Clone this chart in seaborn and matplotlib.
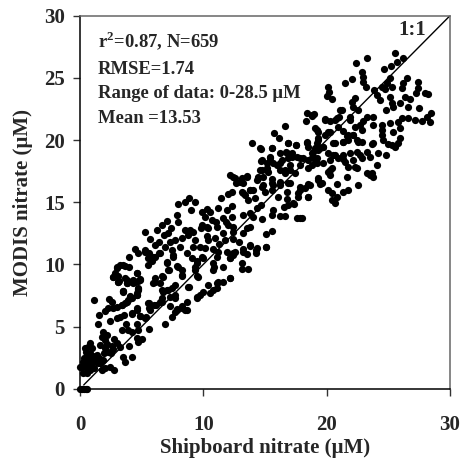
import pandas as pd
import seaborn as sns
import matplotlib
matplotlib.use("Agg")
import matplotlib.pyplot as plt

# points (shipboard, MODIS), by range of shipboard nitrate
zero_pts = [(0, 0), (0.15, 0), (0.3, 0), (0.5, 0), (0.6, 0)]
low_pts = [
    (1.16, 7.13), (1.54, 5.92), (1.43, 5.17), (2.03, 6.27), (2.38, 7.2), (2.57, 7.0), (2.3, 6.46), (2.7, 6.46),
    (2.97, 6.6), (3.38, 6.73), (3.65, 6.86), (3.92, 7.13), (4.05, 7.45), (4.6, 7.53), (4.73, 8), (3.46, 7.85),
    (3.1, 8.6), (3.78, 8.5), (4.3, 8.5), (4.7, 8.66), (2.43, 5.44), (2.97, 5.7), (3.24, 5.8), (3.6, 5.92),
    (4.24, 6), (4.65, 6.46), (4.86, 5.87), (5.27, 5.66), (5.6, 6.86), (5.6, 6.46), (6.2, 6.73), (6.62, 6.94),
    (5.6, 4.77), (6.9, 5.2), (7.43, 5.74), (7.7, 6.2), (7.3, 6.65), (8.24, 6.46), (7.84, 6.4), (8.5, 6.3),
    (3.7, 5.2), (3.38, 4.72), (3.92, 4.72), (4.24, 4.58), (4.6, 5.2), (4.73, 4.72), (4.6, 4.05), (5, 3.97),
    (4.73, 3.73), (3.97, 3.46), (1.89, 4.58), (2.16, 4.3), (1.76, 4.18), (1.62, 3.5), (2.03, 3.9), (2.78, 3.97),
    (2.97, 3.65), (2.57, 3.43), (3.24, 3.38), (2.3, 2.98), (1.97, 2.9), (3.51, 2.57), (3.65, 2.17), (4.19, 2.52),
    (2.78, 1.5), (2.43, 1.77), (2.03, 1.64), (1.76, 1.5), (1.5, 2.45), (1.2, 2.65), (1.62, 2.05), (0.81, 3.65),
    (0.4, 3.24), (0.95, 3.24), (0.54, 2.7), (0.95, 2.57), (1.35, 2.7), (0.27, 2.17), (0.68, 2.17), (1.08, 2.17),
    (1.49, 2.04), (0.14, 1.72), (0.54, 1.64), (0.95, 1.64), (0.27, 1.23), (0.81, 1.5), (0, 1.77), (0.7, 3.4),
    (0.45, 2.95), (0.8, 2.9), (0.35, 2.5), (0.6, 2.4), (0.85, 1.95), (0.4, 1.9), (0.55, 1.3), (1.15, 1.7),
    (1.3, 2.3), (1.9, 2.3), (2.0, 3.3), (2.2, 3.6), (2.5, 2.9), (2.7, 3.2),
]
mid_pts = [
    (7.97, 14.85), (8.51, 15.04), (8.84, 15.31), (9.32, 15.04), (8.97, 14.37), (7.89, 13.97), (7.92, 13.38),
    (7.08, 13.51), (6.62, 13.17), (6.21, 12.76), (7.35, 12.9), (7.16, 12.55), (6.81, 12.36), (5.27, 12.58),
    (5.67, 12.01), (6.08, 11.56), (6.43, 11.82), (7.3, 11.82), (7.7, 11.96), (8.24, 12.09), (8.51, 12.76),
    (8.92, 12.76), (9.19, 12.63), (8.78, 12.36), (9.32, 11.96), (4.46, 11.21), (4.73, 10.89), (5.27, 11.15),
    (5.62, 10.89), (6.43, 10.89), (5.94, 10.62), (5.81, 10.27), (5.54, 9.95), (3.97, 10.62), (6.89, 11.42),
    (7.43, 11.15), (7.57, 10.62), (8.11, 11.42), (8.65, 10.89), (9.05, 10.48), (9.46, 10.3), (9.86, 10.62),
    (10.13, 11.29), (9.19, 11.42), (9.73, 11.42), (7.03, 10.2), (7.24, 9.55), (7.84, 9.87), (8.24, 9.55),
    (8.24, 9.06), (9.32, 9.81), (9.51, 9.06), (10.86, 9.81), (11.08, 10.62), (3.24, 9.95), (3.65, 9.87),
    (4.0, 9.76), (2.97, 9.68), (2.84, 9.33), (2.65, 9), (3.1, 9.06), (3.65, 8.88), (3.78, 8.47), (3.19, 8.69),
    (4.32, 8.74), (4.86, 8.8), (4.59, 9.33), (4.73, 8.07), (4.59, 7.67), (3.46, 7.86), (4.05, 7.4), (6.08, 8.88),
    (6.62, 9.06), (5.94, 8.53), (6.48, 8.47), (6.62, 7.94), (7.03, 7.94), (7.43, 8.07), (7.7, 7.54), (7.3, 7.4),
    (8.73, 8.2), (10, 7.8), (10.4, 8.34), (9.5, 7.4), (10.54, 7.67), (11.08, 8.07), (11.08, 8.5), (6.62, 7.27),
    (7.84, 6.33), (8.24, 6.65), (8.65, 7), (7.7, 7.27), (8.65, 6.33), (9.46, 7.27), (9.73, 7.53), (10.8, 7.94),
    (11.2, 8.6), (11.6, 8.6), (12.16, 8.87), (8.8, 8.2), (7.7, 8.34), (7.16, 7.94), (6.76, 7.8), (6.5, 7),
    (6.0, 6.75), (5.54, 6.86), (5.68, 6.33), (4.65, 6.33), (4.19, 6.06), (4.86, 5.84), (5.32, 5.74), (10.8, 9.54),
    (11.6, 9.8), (12.16, 10.48), (10.8, 10.08), (12.43, 10.88), (9.46, 10.08), (9.6, 9), (9.32, 9.54), (10, 10.48),
    (7.97, 9.81), (8.24, 9.14), (7.16, 9.54), (7.03, 10.08), (6.08, 8.6), (6.76, 9), (7.57, 10.75), (5.54, 10.48),
    (6.08, 10.6), (6.5, 10.88), (5.27, 11), (2.97, 9.8), (3.5, 9.95), (2.7, 9), (3.1, 8.6), (3.78, 8.74),
    (4.6, 9.27), (4.86, 8.74), (4.46, 8.6), (3.5, 7.8), (4.73, 7.94), (4.6, 7.53), (4.2, 7.3), (3.78, 7), (3.38, 6.73),
    (10.3, 12.3), (10.8, 11.2), (11.3, 11.6), (9.8, 12.9), (10.4, 12.9), (11, 13.4), (11.8, 13.4), (12.4, 12.6),
    (12.9, 11.8), (12.6, 11), (11.9, 11), (11.2, 11), (13.2, 12.5),
]
high_pts = [
    (15.76, 20.6), (16.14, 20.19), (13.92, 19.74), (14.65, 19.28), (15.6, 19.33), (16.84, 19.74), (17.51, 19.6),
    (18.38, 19.87), (18.51, 19.47), (19.05, 19.33), (16.22, 18.93), (16.7, 19.07), (17.16, 18.93), (15.41, 18.67),
    (14.68, 18.32), (15.13, 18.13), (15.95, 18), (16.35, 18.4), (16.89, 18.53), (17.57, 18.67), (18.11, 18.53),
    (18.92, 18.67), (19.19, 18.13), (17.84, 18), (18.51, 17.73), (16.22, 17.59), (17.03, 17.59), (16.62, 17.32),
    (17.43, 17.32), (14.73, 17.59), (15.27, 17.46), (12.16, 17.19), (13.51, 17.11), (13.11, 16.92), (12.65, 16.52),
    (13.19, 16.52), (12.57, 16.92), (14.46, 16.98), (15.54, 16.57), (14.73, 16.25), (14.05, 15.98), (13.75, 16.0),
    (13.11, 15.85), (13.38, 15.58), (12.3, 15.85), (12.03, 15.64), (11.43, 15.31), (13.65, 15.18), (14.19, 15.31),
    (15, 15.85), (15.54, 15.98), (16.22, 16.39), (17.03, 16.52), (16.81, 15.8), (17.84, 16.2), (17.65, 15.7),
    (18.51, 16.44), (18.46, 15.45), (19.32, 16.79), (19.45, 16.5), (16.08, 15.45), (16.81, 15.23), (17.38, 14.86),
    (16.89, 14.78), (16.5, 14.59), (15.68, 14.38), (15.54, 13.97), (16.22, 13.89), (16.62, 13.89), (17.57, 13.7),
    (17.97, 13.7), (14.78, 13.65), (14.68, 14.78), (14.32, 14.51), (13.78, 14.11), (12.35, 14.7), (13.24, 13.97),
    (14.05, 13.78), (12.3, 13.78), (11.57, 13.76), (11.22, 14.51), (11.89, 14.38), (10.27, 14.46), (9.87, 14.24),
    (10.54, 14.24), (10.14, 13.78), (10.68, 13.57), (9.87, 13.17), (10.27, 13.03), (11.08, 12.98), (12.03, 13.17),
    (12.43, 13.03), (13.78, 13.03), (13.51, 12.9), (11.62, 12.5), (10.95, 12.1), (10.41, 11.96), (11.76, 11.96),
    (12.43, 12.02), (15.05, 12.42), (15.54, 12.69), (13.78, 11.56), (13.24, 11.2), (15.05, 11.43), (14.32, 11.3),
    (15.09, 11.38), (14.28, 11.16), (13.79, 11.51), (13.25, 11.03), (13.57, 10.84), (13.11, 10.14), (13.17, 9.61),
    (13.66, 9.61), (12.39, 10.76), (12.17, 10.5), (12.17, 8.88), (14.28, 10.9),
    (25.54, 26.98), (26.22, 26.58), (25.73, 26.26), (25.19, 25.96), (24.65, 25.72), (23.3, 26.58), (22.35, 26.23),
    (22.84, 25.5), (22.97, 25.1), (22.92, 24.7), (23.19, 24.3), (21.49, 24.62), (22.03, 24.89), (20.14, 24.3),
    (20.22, 23.9), (20.05, 23.55), (20.41, 23.3), (23.87, 24.03), (24.46, 24.3), (24.86, 24.57), (25.14, 24.97),
    (25.27, 24.3), (24.7, 24.1), (26.49, 24.97), (26.22, 24.57), (26.08, 24.16), (27.38, 24.7), (27.43, 24.16),
    (27.24, 23.76), (27.97, 23.82), (28.24, 23.71), (24.05, 23.63), (24.32, 23.23), (25.14, 23.5), (26.35, 23.5),
    (26.76, 23.3), (25.27, 22.96), (25.95, 22.96), (26.62, 22.69), (24.81, 22.42), (25.41, 22.69), (27.49, 22.56),
    (28.43, 22.15), (28.16, 21.88), (28.38, 21.48), (27.7, 21.54), (27.16, 21.62), (26.62, 21.75), (26.08, 21.8),
    (25.81, 21.43), (25.14, 21.35), (24.46, 21.22), (23.78, 21.22), (23.78, 21.88), (23.24, 21.88), (22.97, 21.54),
    (22.7, 21.22), (22.84, 20.81), (22.3, 21.08), (22.16, 22.69), (22.03, 23.09), (22.3, 23.36), (22.57, 22.42),
    (21.89, 21.88), (21.22, 22.42), (21.03, 21.88), (20.68, 21.62), (19.86, 21.62), (18.97, 22.07), (18.8, 21.9),
    (20.95, 21.08), (21.35, 20.73), (20.14, 20.68), (19.32, 20.68), (19.05, 20.95), (24.46, 20.81), (25.41, 20.68),
    (25.95, 20.95), (24.46, 20.41), (24.6, 20), (25.95, 20.14), (25.81, 19.74), (25.27, 19.6), (25.54, 19.47),
    (25, 19.66), (21.76, 20.41), (22.16, 20.41), (21.35, 19.87), (21.76, 20), (22.43, 20), (22.84, 19.87),
    (20.54, 19.74), (19.32, 20.14), (19.19, 19.74), (19.73, 19.47), (18.92, 19.07), (19.32, 19.2), (20.14, 18.93),
    (20.68, 18.8), (21.35, 18.8), (21.89, 18.93), (22.43, 19.07), (22.7, 18.8), (23.24, 19.07), (23.65, 19.66),
    (24.19, 18.93), (24.81, 18.8), (23.51, 18.67), (22.84, 18.53), (22.16, 18.4), (21.49, 18.27), (20.27, 18.4),
    (20.95, 18.53), (19.73, 18.13), (19.05, 18.4), (24.05, 17.99), (20.41, 17.73), (20.14, 17.45), (22.43, 17.73),
    (23.65, 17.33), (23.24, 17.33), (18.78, 18),
    (16.63, 21.14), (18.4, 22.16), (18.8, 22.05), (18.33, 21.56), (19.25, 20.8), (19.87, 21.67), (20.28, 21.57),
    (20.82, 21.75), (21.09, 22.42), (21.9, 21.6), (19.87, 20.4), (20.28, 20.68), (20.68, 19.8), (21.63, 20.3),
    (22.17, 20.41), (21.36, 19.85), (22.58, 19.87), (23.79, 19.74), (18.66, 16.39), (19.33, 16.93), (19.6, 16.52),
    (20.14, 16), (20.41, 15.72), (20.82, 16.47), (21.63, 17.06), (22.58, 16.39), (21.76, 16), (21.36, 15.85),
    (20.82, 15.45), (20.41, 15.18), (20.68, 14.92), (23.52, 17.2), (23.79, 17.06), (21.76, 17.86), (22.3, 17.86),
    (20.28, 17.6), (20.28, 17.2), (18.25, 16.12), (17.84, 16), (18.52, 15.45), (17.7, 15.45), (17.3, 14.92),
    (17.84, 13.7), (16.76, 18.94), (17.17, 18.67), (17.84, 18.54), (18.52, 18.4), (19.2, 18.54), (20.55, 18.8),
    (15.68, 18.13), (16.22, 18.13), (16.63, 17.6), (17.03, 18), (14.6, 19.34), (15.55, 19.34), (16.9, 19.74),
    (17.52, 19.6), (18.4, 19.74), (19.33, 20), (19.74, 19.47), (18.79, 18.94), (19.47, 19.34), (21.36, 18.45),
    (14.74, 18.4), (15.41, 18.54), (14.6, 17.6), (15.14, 17.73), (14.87, 17.06), (15.55, 16.9), (14.33, 16.8),
    (12.44, 17.06), (12.98, 16.66), (13.52, 17.06), (14.47, 17.06), (14.87, 16.39), (13.25, 15.72), (13.79, 15.99),
    (15.68, 16.39), (16.22, 16.66), (16.9, 16.52),
]
ticks = [0, 5, 10, 15, 20, 25, 30]
xticks = [0, 10, 20, 30]
one_to_one = [0.3, 30]

df = pd.DataFrame(zero_pts + low_pts + mid_pts + high_pts, columns=["ship", "modis"])

sns.set_style("white")
plt.rcParams["font.family"] = ["Liberation Serif", "DejaVu Serif"]
plt.rcParams["font.weight"] = "bold"
plt.rcParams["mathtext.fontset"] = "custom"
plt.rcParams["mathtext.bf"] = "Liberation Serif:bold"

fig = plt.figure(figsize=(4.61, 4.59), dpi=100)
ax = fig.add_axes([80 / 461, 70.3 / 459, 370 / 461, 373 / 459])

sns.lineplot(x=one_to_one, y=one_to_one, color="black", lw=1, ax=ax, zorder=1)
sns.scatterplot(data=df, x="ship", y="modis", color="black", s=27, linewidth=0, clip_on=False, ax=ax, zorder=2)

ax.set_xlim(0, 30)
ax.set_ylim(0, 30)
ax.set_xticks(xticks)
ax.set_yticks(ticks)
ax.tick_params(axis="both", direction="out", length=5, width=1, color="#333333", left=True, bottom=True)
ax.tick_params(axis="x", labelsize=15, pad=14)
ax.tick_params(axis="y", labelsize=15, pad=6)
for side in ["left", "bottom"]:
    ax.spines[side].set_color("black")
    ax.spines[side].set_linewidth(1.1)
for side in ["top", "right"]:
    ax.spines[side].set_color("#666666")
    ax.spines[side].set_linewidth(1.1)

ax.set_xlabel("Shipboard nitrate (µM)", fontsize=15, fontweight="bold", labelpad=2)
ax.set_ylabel("MODIS nitrate (µM)", fontsize=15, fontweight="bold", labelpad=8)

ax.text(1.45, 27.35, r"r$^{\mathbf{2}}$=0.87, N=659", fontsize=13.4, va="baseline")
ax.text(1.45, 25.35, "RMSE=1.74", fontsize=13.4, va="baseline")
ax.text(1.45, 23.4, "Range of data: 0-28.5 µM", fontsize=13.4, va="baseline")
ax.text(1.45, 21.4, "Mean =13.53", fontsize=13.4, va="baseline")
ax.text(25.8, 28.45, "1:1", fontsize=15, va="baseline")

fig.savefig("out.png", dpi=100)
